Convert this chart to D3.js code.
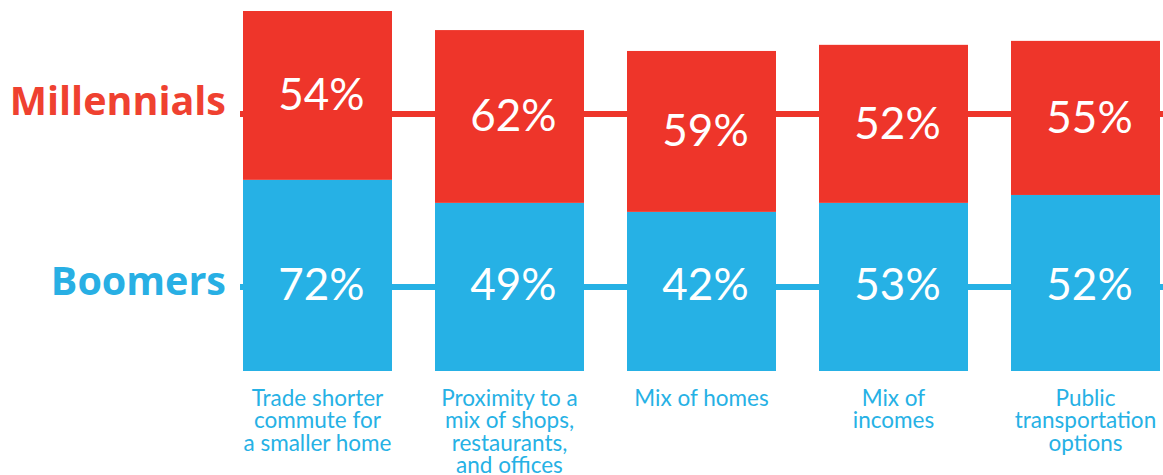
<!DOCTYPE html>
<html>
<head>
<meta charset="utf-8">
<script src="https://cdn.jsdelivr.net/npm/d3@7"></script>
<style>
  body { margin: 0; background: #fff; }
  svg { display: block; }
</style>
</head>
<body>
<div id="chart"></div>
<script>
// categories (one entry per bar, lines split on \n)
var categories = [
  "Trade shorter\ncommute for\na smaller home",
  "Proximity to a\nmix of shops,\nrestaurants,\nand offices",
  "Mix of homes",
  "Mix of\nincomes",
  "Public\ntransportation\noptions"
];

// survey values shown in the bars
var millennials = [54, 62, 59, 52, 55],
  boomers = [72, 49, 42, 53, 52];

// segment extents as drawn (0-100 of bar scale, not proportional to the values)
var boomerTop = [53.1, 46.7, 44.2, 46.7, 48.9],
  millennialTop = [100, 94.7, 88.9, 90.6, 91.7];

var seriesNames = ["Millennials", "Boomers"];

var width = 1163, height = 475;
var red = "#ee352a", blue = "#26b1e5";

var xScale = d3.scaleBand()
  .domain(categories)
  .range([243, 1160])
  .paddingInner(0.224)
  .paddingOuter(0);

var yScale = d3.scaleLinear().domain([0, 100]).range([371, 11]);

// rows where the connector lines run
var redRow = 71.4, blueRow = 23.3;

var svg = d3.select("#chart")
  .append("svg")
  .attr("width", width)
  .attr("height", height);

// connectors behind the bars
svg.selectAll("line.conn")
  .data([{v: redRow, c: red}, {v: blueRow, c: blue}])
  .enter().append("line")
  .attr("class", "conn")
  .attr("x1", xScale.range()[0] - 3)
  .attr("x2", width)
  .attr("y1", d => yScale(d.v))
  .attr("y2", d => yScale(d.v))
  .attr("stroke", d => d.c)
  .attr("stroke-width", 6);

var rows = categories.map(function(c, i) {
  return {cat: c, m: millennials[i], b: boomers[i], bt: boomerTop[i], mt: millennialTop[i]};
});

// blue (boomers) segments
svg.selectAll("rect.boomers")
  .data(rows)
  .enter().append("rect")
  .attr("class", "boomers")
  .attr("x", d => xScale(d.cat))
  .attr("y", d => yScale(d.bt))
  .attr("width", xScale.bandwidth())
  .attr("height", d => yScale(0) - yScale(d.bt))
  .attr("fill", blue);

// red (millennials) segments
svg.selectAll("rect.millennials")
  .data(rows)
  .enter().append("rect")
  .attr("class", "millennials")
  .attr("x", d => xScale(d.cat))
  .attr("y", d => yScale(d.mt))
  .attr("width", xScale.bandwidth())
  .attr("height", d => yScale(d.bt) - yScale(d.mt))
  .attr("fill", red);

var pctFont = "Lato, 'Open Sans', sans-serif";

// value labels
svg.selectAll("text.mval")
  .data(rows)
  .enter().append("text")
  .attr("class", "mval")
  .attr("x", d => xScale(d.cat) + xScale.bandwidth() / 2 + 4)
  .attr("y", d => (yScale(d.mt) + yScale(d.bt)) / 2 + 15)
  .attr("text-anchor", "middle")
  .style("font-family", pctFont)
  .style("font-size", "44px")
  .attr("fill", "#fff")
  .text(d => d.m + "%");

svg.selectAll("text.bval")
  .data(rows)
  .enter().append("text")
  .attr("class", "bval")
  .attr("x", d => xScale(d.cat) + xScale.bandwidth() / 2 + 4)
  .attr("y", yScale(blueRow) + 13)
  .attr("text-anchor", "middle")
  .style("font-family", pctFont)
  .style("font-size", "44px")
  .attr("fill", "#fff")
  .text(d => d.b + "%");

// series names on the left
svg.selectAll("text.series")
  .data(seriesNames)
  .enter().append("text")
  .attr("class", "series")
  .attr("x", 226)
  .attr("y", (d, i) => yScale(i === 0 ? redRow : blueRow) + (i === 0 ? 1 : 8))
  .attr("text-anchor", "end")
  .style("font-family", "'Open Sans', sans-serif")
  .style("font-weight", "bold")
  .style("font-size", "39.5px")
  .attr("fill", (d, i) => i === 0 ? "#ef4130" : "#28afe4")
  .text(d => d);

// category labels under the bars
var cats = svg.selectAll("text.cat")
  .data(categories)
  .enter().append("text")
  .attr("class", "cat")
  .attr("x", d => xScale(d) + xScale.bandwidth() / 2)
  .attr("y", 406)
  .attr("text-anchor", "middle")
  .style("font-family", pctFont)
  .style("font-size", "22.5px")
  .attr("fill", blue);

cats.selectAll("tspan")
  .data(d => d.split("\n"))
  .enter().append("tspan")
  .attr("x", function() { return d3.select(this.parentNode).attr("x"); })
  .attr("dy", (d, i) => i === 0 ? 0 : 22.3)
  .text(d => d);
</script>
</body>
</html>
